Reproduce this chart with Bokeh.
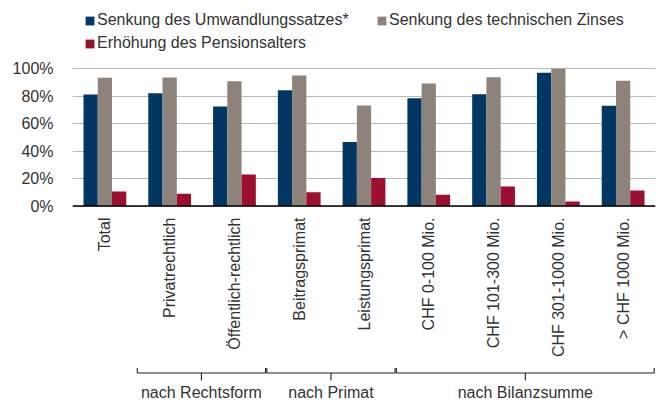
from math import pi
from bokeh.plotting import figure
from bokeh.models import (Range1d, FixedTicker, PrintfTickFormatter, Span,
                          Legend, LegendItem)
from bokeh.core.properties import value
from bokeh.embed import file_html
from bokeh.resources import INLINE

# ---------------- data ----------------
categories = ["Total", "Privatrechtlich", "Öffentlich-rechtlich", "Beitragsprimat",
              "Leistungsprimat", "CHF 0-100 Mio.", "CHF 101-300 Mio.",
              "CHF 301-1000 Mio.", "> CHF 1000 Mio."]
umwandlungssatz = [81.3, 82.2, 72.6, 84.4, 46.6, 78.6, 81.5, 97.1, 73.1]
technischer_zins = [93.4, 93.7, 91.0, 95.1, 73.3, 89.3, 93.9, 100.0, 91.3]
pensionsalter = [10.7, 9.0, 23.1, 10.0, 20.4, 8.2, 14.3, 3.4, 11.4]
series_names = ["Senkung des Umwandlungssatzes*",
                "Senkung des technischen Zinses",
                "Erhöhung des Pensionsalters"]
y_ticks = [0, 20, 40, 60, 80, 100]
groups = [("nach Rechtsform", 1, 2), ("nach Primat", 3, 4), ("nach Bilanzsumme", 5, 8)]

# ---------------- layout ----------------
FONT = "Liberation Sans"
TXT = "#333333"
COLORS = ["#023764", "#8d837a", "#9c0f2e"]
W, H = 656, 403
Y0_PAGE, Y100_PAGE = 205.6, 68.3
PXP = (Y0_PAGE - Y100_PAGE) / 100.0


def ypage(py):
    """picture pixel row -> data value"""
    return (Y0_PAGE - py) / PXP


p = figure(width=W, height=H, output_backend="svg", toolbar_location=None,
           x_range=Range1d(0, len(categories)),
           y_range=Range1d(ypage(H), ypage(0)),
           x_axis_location=None,
           min_border_left=72, min_border_right=1, min_border_top=0,
           min_border_bottom=0, background_fill_color="white",
           border_fill_color="white")
p.outline_line_color = None

ticker = FixedTicker(ticks=y_ticks)
ax = p.yaxis[0]
ax.ticker = ticker
ax.formatter = PrintfTickFormatter(format="%d%%")
ax.axis_line_color = None
ax.major_tick_line_color = None
ax.minor_tick_line_color = None
ax.major_tick_out = 0
ax.major_tick_in = 0
ax.major_label_standoff = 19
ax.major_label_text_font = FONT
ax.major_label_text_font_size = "16px"
ax.major_label_text_color = TXT

p.xgrid.visible = False
p.ygrid.ticker = ticker
p.ygrid.grid_line_color = "#b8b8b8"
p.ygrid.grid_line_width = 1

# bars
BW = 0.22
centers = [i + 0.5 for i in range(len(categories))]
renderers = []
for k, vals in enumerate([umwandlungssatz, technischer_zins, pensionsalter]):
    off = (k - 1) * BW
    r = p.vbar(x=[c + off for c in centers], top=vals, bottom=0, width=BW,
               fill_color=COLORS[k], line_color=None)
    renderers.append(r)

p.add_layout(Span(location=0, dimension="width", line_color="black", line_width=1.5))

# category labels (rotated)
p.text(x=centers, y=[ypage(217)] * len(categories), text=categories,
       angle=pi / 2, text_align="right", text_baseline="middle",
       text_font=value(FONT), text_font_size="16px", text_color=TXT)

# group brackets
xs, ys = [], []
gx, gy, gt = [], [], []
tip, line, tick = ypage(367.5), ypage(372.5), ypage(380)
for name, first, last in groups:
    l, r = first + 0.0, last + 1 - 0.02
    m = (l + r) / 2
    xs.append([l, l, r, r]); ys.append([tip, line, line, tip])
    xs.append([m, m]); ys.append([line, tick])
    gx.append(m); gy.append(ypage(392)); gt.append(name)
p.multi_line(xs=xs, ys=ys, line_color="#222222", line_width=1.1)
p.text(x=gx, y=gy, text=gt, text_align="center", text_baseline="middle",
       text_font=value(FONT), text_font_size="16px", text_color=TXT)

legend = Legend(items=[LegendItem(label=n, renderers=[r]) for n, r in zip(series_names, renderers)],
                location=(12, H - 52), orientation="horizontal", ncols=2,
                glyph_width=11, glyph_height=11, label_standoff=2, spacing=5,
                label_width=274, padding=0, margin=0, border_line_color=None,
                background_fill_alpha=0, label_text_font=FONT,
                label_text_font_size="16px", label_text_color=TXT)
p.add_layout(legend)

open("out.html", "w").write(file_html(p, INLINE))
